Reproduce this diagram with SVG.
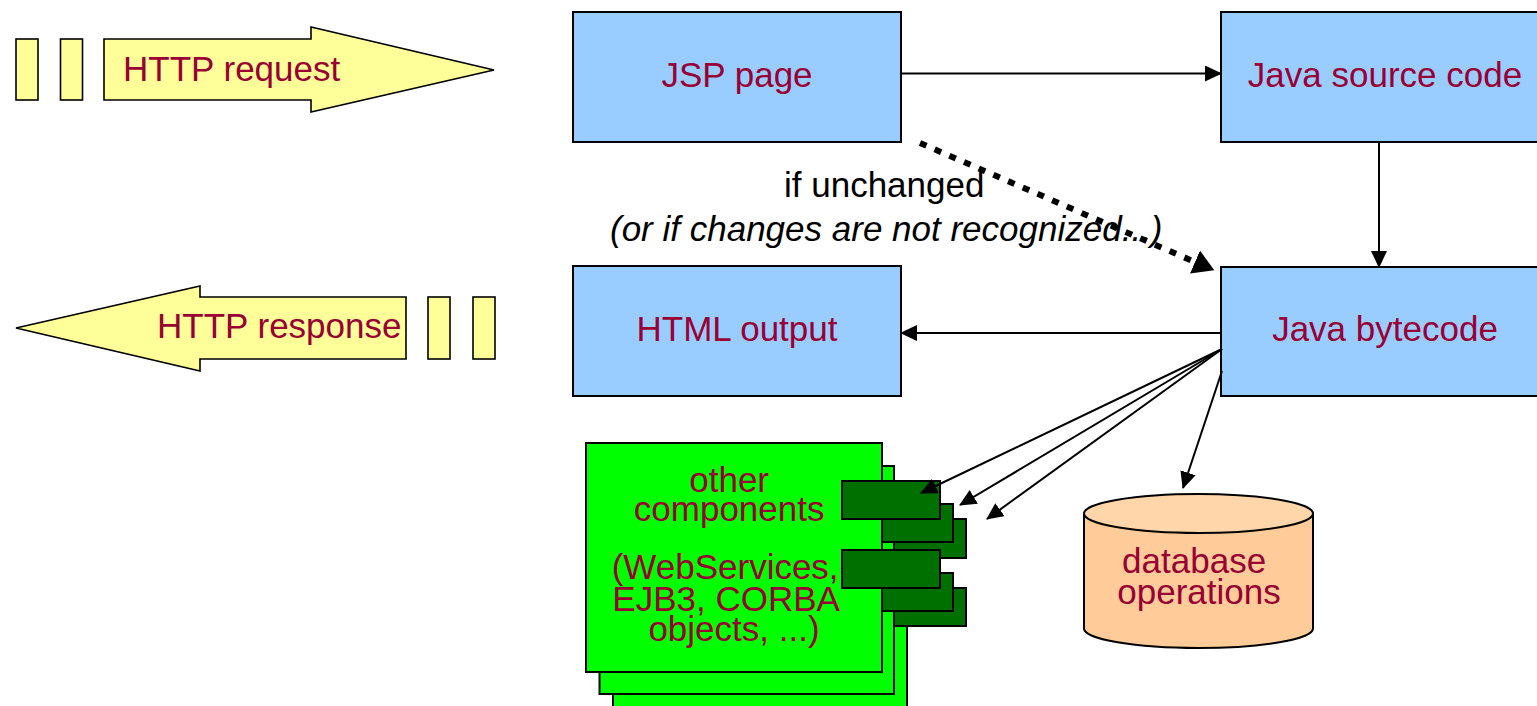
<svg xmlns="http://www.w3.org/2000/svg" width="1537" height="706" viewBox="0 0 1537 706">
  <style>
    .lbl { font-family: "Liberation Sans", Arial, sans-serif; font-size: 35px; fill: #990033; }
    .note { font-family: "Liberation Sans", Arial, sans-serif; font-size: 35px; fill: #000000; }
    .box { fill: #99CCFF; stroke: #000000; stroke-width: 2; }
    .http { fill: #FFFF99; stroke: #000000; stroke-width: 1.6; }
    .comp { fill: #00FF00; stroke: #000000; stroke-width: 2; }
    .port { fill: #007000; stroke: #000000; stroke-width: 2; }
    .wire { fill: none; stroke: #000000; stroke-width: 2; marker-end: url(#head); }
  </style>
  <defs>
    <marker id="head" markerUnits="userSpaceOnUse" markerWidth="18" markerHeight="16" refX="16" refY="8" orient="auto">
      <path d="M0,0 L17,8 L0,16 z" fill="#000000"/>
    </marker>
    <marker id="headBig" markerUnits="userSpaceOnUse" markerWidth="22" markerHeight="26" refX="0" refY="12.5" orient="auto">
      <path d="M0,0 L21,12.5 L0,25 z" fill="#000000"/>
    </marker>
  </defs>

  <rect width="1537" height="706" fill="#FFFFFF"/>

  <!-- incoming request -->
  <g id="http-request">
    <rect class="http" x="16" y="39" width="22" height="61"/>
    <rect class="http" x="60.5" y="39" width="22" height="61"/>
    <polygon class="http" points="104,39 311,39 311,27 494,70 311,112 311,100 104,100"/>
    <text class="lbl" x="123" y="81">HTTP request</text>
  </g>

  <!-- outgoing response -->
  <g id="http-response">
    <polygon class="http" points="406,297 200,297 200,286 16,328 200,371 200,359 406,359"/>
    <rect class="http" x="428" y="297" width="22" height="62"/>
    <rect class="http" x="473" y="297" width="22" height="62"/>
    <text class="lbl" x="157" y="338">HTTP response</text>
  </g>

  <g id="jsp-page">
    <rect class="box" x="573" y="12" width="328" height="130"/>
    <text class="lbl" x="737" y="87" text-anchor="middle">JSP page</text>
  </g>

  <g id="java-source">
    <rect class="box" x="1221" y="12" width="328" height="130"/>
    <text class="lbl" x="1385" y="87" text-anchor="middle">Java source code</text>
  </g>

  <g id="html-output">
    <rect class="box" x="573" y="266" width="328" height="130"/>
    <text class="lbl" x="737" y="341" text-anchor="middle">HTML output</text>
  </g>

  <g id="java-bytecode">
    <rect class="box" x="1221" y="267" width="328" height="129"/>
    <text class="lbl" x="1385" y="341" text-anchor="middle">Java bytecode</text>
  </g>

  <!-- stacked component boxes, back to front, each with two ports -->
  <g id="components">
    <rect class="comp" x="613" y="481" width="294" height="240"/>
    <rect class="port" x="869" y="519" width="97" height="39"/>
    <rect class="port" x="869" y="588" width="97" height="38"/>

    <rect class="comp" x="599.5" y="466" width="294.5" height="228"/>
    <rect class="port" x="855.5" y="504" width="97.5" height="38"/>
    <rect class="port" x="855.5" y="573" width="97.5" height="38"/>

    <rect class="comp" x="586" y="443" width="296" height="229"/>
    <rect class="port" x="842" y="481" width="98" height="38"/>
    <rect class="port" x="842" y="550" width="98" height="38"/>

    <text class="lbl" text-anchor="middle">
      <tspan x="734" y="492">other</tspan>
      <tspan x="734" y="521">components</tspan>
      <tspan x="730" y="579">(WebServices,</tspan>
      <tspan x="730" y="611">EJB3, CORBA</tspan>
      <tspan x="734" y="641">objects, ...)</tspan>
    </text>
  </g>

  <g id="database">
    <path d="M1084,513.5 L1084,628.5 A114.5,19.5 0 0 0 1313,628.5 L1313,513.5" fill="#FFCC99" stroke="#000000" stroke-width="2"/>
    <ellipse cx="1198.5" cy="513.5" rx="114.5" ry="19.5" fill="#FFD6AA" stroke="#000000" stroke-width="2"/>
    <text class="lbl" text-anchor="middle">
      <tspan x="1199" y="573">database</tspan>
      <tspan x="1199" y="604">operations</tspan>
    </text>
  </g>

  <g id="connectors">
    <text class="note" x="784" y="197">if unchanged</text>
    <text class="note" x="610" y="241" font-style="italic">(or if changes are not recognized...)</text>

    <line class="wire" x1="901" y1="73.5" x2="1221" y2="73.5"/>
    <line class="wire" x1="1379" y1="142" x2="1379" y2="267"/>
    <line class="wire" x1="1221" y1="333" x2="901" y2="333"/>
    <line class="wire" x1="1222" y1="349" x2="921" y2="493"/>
    <line class="wire" x1="1222" y1="349" x2="960" y2="505"/>
    <line class="wire" x1="1222" y1="349" x2="987" y2="519"/>
    <line class="wire" x1="1222" y1="371" x2="1183" y2="488"/>

    <line x1="920" y1="143" x2="1195" y2="262" stroke="#000000" stroke-width="6" stroke-dasharray="7 9" marker-end="url(#headBig)"/>
  </g>
</svg>
